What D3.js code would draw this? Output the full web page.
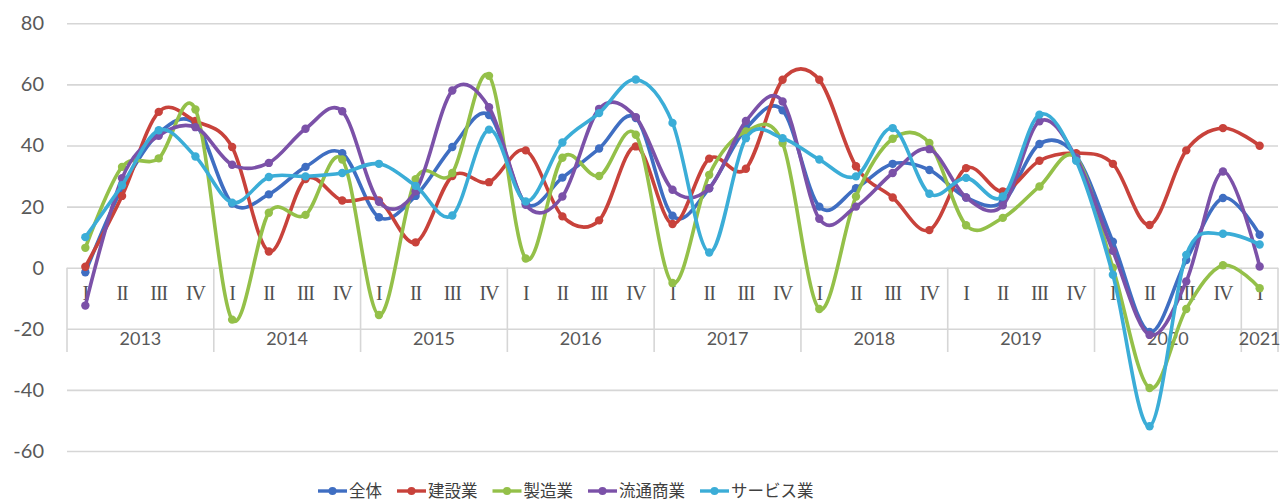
<!DOCTYPE html>
<html><head><meta charset="utf-8">
<script src="https://cdn.jsdelivr.net/npm/d3@7"></script>
<style>
html,body{margin:0;padding:0;background:#fff;}
svg{display:block;}
</style>
</head><body>
<svg id="chart" width="1282" height="502"></svg>
<script>
// ---- data ----
const years = ["2013","2014","2015","2016","2017","2018","2019","2020","2021"];
const quarterLabels = ["I","II","III","IV"];
const seriesNames = ["全体","建設業","製造業","流通商業","サービス業"];
const seriesColors = ["#3F6EC2","#C8423B","#94C049","#7B51A8","#3BADD7"];
const yTicks = [-60,-40,-20,0,20,40,60,80];

const zentai   = [-1.5,26,44,47, 21,24,33,37.5, 16.5,23.5,39.5,50, 21,29.5,39,49, 17,26,45.5,51.5, 20,26,34,32, 23,21.5,40.5,36.5, 8.5,-21,2.5,22.8, 10.8];
const kensetsu = [0.3,23.5,51,48, 39.5,5.3,29,22, 22,8.3,30,28, 38.4,16.8,15.5,39.7, 14.3,35.7,32.4,61.5, 61.5,33.2,23,12.3, 32.6,25,35,37.5, 34,14,38.4,45.7, 39.9];
const seizou   = [6.5,33,35.8,51.8, -17,18,17.3,35.4, -15.5,29,31,62.8, 3,36,30,43.5, -5,30.4,44.6,40.8, -13.5,23.3,42.2,40.8, 13.9,16.3,26.6,36, 0,-39.4,-13.5,0.8, -6.7];
const ryutsu   = [-12.4,29.3,43.2,46, 33.7,34.3,45.5,51.2, 21.6,25,58,52.5, 20.6,23.3,52,49.3, 25.5,26,48,54.4, 16,20,31,38.8, 23,20.4,47.9,36, 5.5,-22,-4.5,31.5, 0.4];
const service  = [10,27,45,36.4, 21.3,29.7,29.9,31, 34,26.8,17.1,45.2, 21.7,41,50.6,61.6, 47.4,5,42.4,42.4, 35.4,29.9,45.7,24.2, 29.4,23.3,50.1,35, -2.3,-51.9,4.2,11.1, 7.6];
const seriesValues = [zentai, kensetsu, seizou, ryutsu, service];

// categories: year x quarter up to 2021 Q1
const categories = [];
years.forEach(yr => quarterLabels.forEach(q => { categories.push({year:yr, q:q}); }));
categories.length = zentai.length;

// ---- layout ----
const svg = d3.select("#chart");
const plotL = 67, plotR = 1278, plotT = 23.3, plotB = 451;
const x = d3.scaleBand().domain(d3.range(categories.length)).range([plotL, plotR]).padding(0);
const cx = i => x(i) + x.bandwidth()/2;
const y = d3.scaleLinear().domain([-60,80]).range([plotB, plotT]);

const gridColor = "#d6d6d6";
const textColor = "#595959";
const numFont = "Lato, 'Open Sans', 'Noto Sans', sans-serif";

// gridlines + y labels via axis
const yAxis = d3.axisLeft(y).tickValues(yTicks).tickSize(-(plotR-plotL)).tickPadding(23)
  .tickFormat(d => String(d));
const gy = svg.append("g").attr("transform", `translate(${plotL},0)`).call(yAxis);
gy.select(".domain").remove();
gy.selectAll(".tick line").attr("stroke", gridColor).attr("stroke-width", 1.6);
gy.selectAll(".tick text").attr("fill", textColor).attr("font-family", numFont)
  .attr("font-size", 20).attr("x", -23);

// category axis box (at y=0)
const y0 = y(0), yBoxBottom = 352;
const yearStarts = [];
categories.forEach((c,i)=>{ if(i===0 || categories[i-1].year!==c.year) yearStarts.push(i); });
const axisG = svg.append("g");
const bounds = yearStarts.map(i => x(i)).concat([plotR]);
axisG.selectAll("line.sep").data(bounds).join("line")
  .attr("x1", d=>d).attr("x2", d=>d).attr("y1", y0).attr("y2", yBoxBottom)
  .attr("stroke", gridColor).attr("stroke-width", 1.6);

// quarter labels
axisG.selectAll("text.q").data(categories).join("text")
  .attr("x", (d,i)=>cx(i)).attr("y", 300)
  .attr("text-anchor","middle")
  .attr("font-family","'Liberation Serif', 'DejaVu Serif', serif")
  .attr("font-size", 20).attr("letter-spacing", -1)
  .attr("fill", "#505050")
  .text(d=>d.q);

// year labels
yearStarts.forEach((s,k)=>{
  const e = (k+1<yearStarts.length? yearStarts[k+1] : categories.length);
  const xm = (x(s) + (e<categories.length? x(e) : plotR))/2;
  axisG.append("text").attr("x", xm).attr("y", 345)
    .attr("text-anchor","middle").attr("font-family", numFont)
    .attr("font-size", 18).attr("fill", textColor).text(years[k]);
});

// lines
const line = d3.line().x((d,i)=>cx(i)).y(d=>y(d)).curve(d3.curveCardinal.tension(0));
seriesValues.forEach((vals, si)=>{
  const g = svg.append("g");
  g.append("path").datum(vals).attr("d", line).attr("fill","none")
    .attr("stroke", seriesColors[si]).attr("stroke-width", 3.6)
    .attr("stroke-linejoin","round").attr("stroke-linecap","round");
  g.selectAll("circle").data(vals).join("circle")
    .attr("cx",(d,i)=>cx(i)).attr("cy", d=>y(d)).attr("r", 4.2)
    .attr("fill", seriesColors[si]);
});

// legend
const legend = svg.append("g").attr("transform","translate(0,491)");
let lx = 318;
seriesNames.forEach((name, si)=>{
  const g = legend.append("g").attr("transform", `translate(${lx},0)`);
  g.append("line").attr("x1",0).attr("x2",29).attr("y1",0).attr("y2",0)
    .attr("stroke", seriesColors[si]).attr("stroke-width",3.4);
  g.append("circle").attr("cx",14.5).attr("cy",0).attr("r",4).attr("fill",seriesColors[si]);
  const t = g.append("text").attr("x",31).attr("y",6)
    .attr("font-family","'Noto Sans CJK JP', sans-serif").attr("font-size",16.5)
    .attr("fill","#404040").text(name);
  const w = t.node().getComputedTextLength();
  lx += 31 + w + 15;
});
</script>
</body></html>
